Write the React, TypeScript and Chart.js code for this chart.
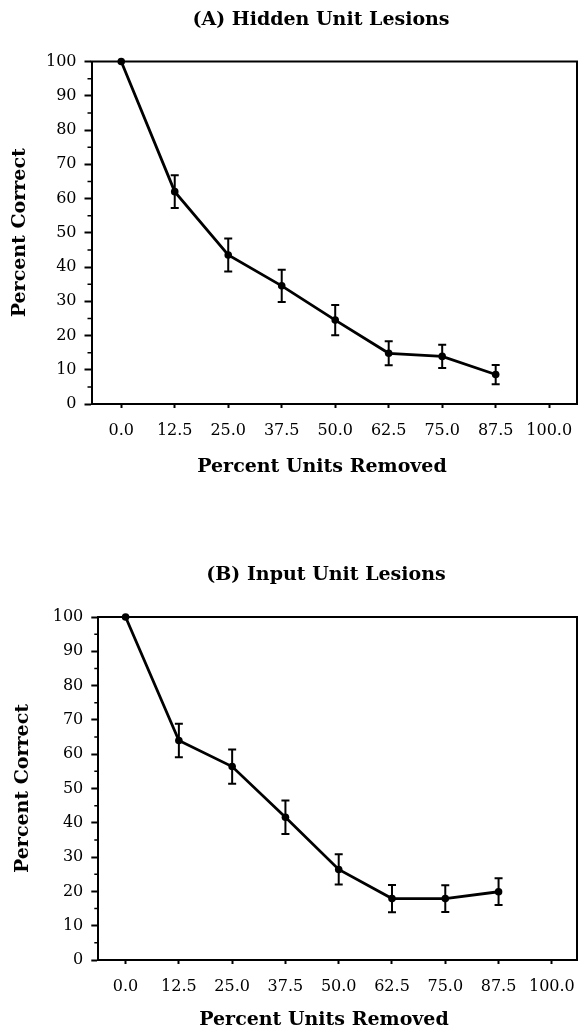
import React, { useEffect, useRef } from "react";
import { Chart, registerables } from "chart.js";

Chart.register(...registerables);

// ---- data ----
const unitsRemoved = [0, 12.5, 25, 37.5, 50, 62.5, 75, 87.5];
const hiddenCorrect = [100, 62, 43.5, 34.5, 24.5, 14.8, 13.9, 8.6];
const hiddenError = [0, 4.8, 4.8, 4.7, 4.4, 3.5, 3.4, 2.8];
const inputCorrect = [100, 64, 56.4, 41.6, 26.4, 17.9, 17.9, 19.9];
const inputError = [0, 4.9, 5.0, 4.9, 4.4, 4.0, 3.9, 3.9];
const xTickValues = [0, 12.5, 25, 37.5, 50, 62.5, 75, 87.5, 100];
const xTickLabels = ["0.0", "12.5", "25.0", "37.5", "50.0", "62.5", "75.0", "87.5", "100.0"];
const yMinorTicks = [5, 15, 25, 35, 45, 55, 65, 75, 85, 95];
const xAxisTitle = "Percent Units Removed";
const yAxisTitle = "Percent Correct";

const SERIF = "'DejaVu Serif', serif";

type Props = {
  title: string;
  means: number[];
  errors: number[];
  top: number;
  height: number;
  plotTop: number;
  yAxisWidth: number;
  xAxisHeight: number;
  titleX: number;
  titleY: number;
  xTitleX: number;
  xTitleY: number;
  yTitlePad: number;
  xMin: number;
  xMax: number;
  padRight: number;
};

function makeFramePlugin(p: Props) {
  return {
    id: "frame",
    afterDatasetsDraw(chart: any) {
      const { ctx, chartArea: a, scales } = chart;
      const xs = scales.x;
      const ys = scales.y;
      ctx.save();
      ctx.strokeStyle = "#000";
      ctx.lineCap = "butt";
      // top and right frame
      ctx.lineWidth = 2;
      ctx.beginPath();
      ctx.moveTo(a.left - 1, a.top);
      ctx.lineTo(a.right, a.top);
      ctx.lineTo(a.right, a.bottom + 1);
      ctx.stroke();
      // minor y ticks
      ctx.lineWidth = 1.5;
      ctx.beginPath();
      for (const v of yMinorTicks) {
        const py = ys.getPixelForValue(v);
        ctx.moveTo(a.left - 4, py);
        ctx.lineTo(a.left, py);
      }
      ctx.stroke();
      // error bars
      const ds = chart.data.datasets[0];
      const errs: number[] = ds.errorBars || [];
      ctx.lineWidth = 2;
      ctx.beginPath();
      ds.data.forEach((pt: any, i: number) => {
        const e = errs[i];
        if (!e) return;
        const px = xs.getPixelForValue(pt.x);
        const t = ys.getPixelForValue(pt.y + e);
        const b = ys.getPixelForValue(pt.y - e);
        ctx.moveTo(px, t);
        ctx.lineTo(px, b);
        ctx.moveTo(px - 4, t);
        ctx.lineTo(px + 4, t);
        ctx.moveTo(px - 4, b);
        ctx.lineTo(px + 4, b);
      });
      ctx.stroke();
      // titles
      ctx.fillStyle = "#000";
      ctx.font = `bold 19px ${SERIF}`;
      ctx.textAlign = "center";
      ctx.textBaseline = "middle";
      ctx.fillText(p.title, p.titleX, p.titleY);
      ctx.fillText(xAxisTitle, p.xTitleX, p.xTitleY);
      ctx.restore();
    },
  };
}

function LesionChart(p: Props) {
  const ref = useRef<HTMLCanvasElement | null>(null);
  useEffect(() => {
    if (!ref.current) return;
    const chart = new Chart(ref.current, {
      type: "line",
      data: {
        datasets: [
          {
            data: unitsRemoved.map((x, i) => ({ x, y: p.means[i] })),
            errorBars: p.errors,
            borderColor: "#000",
            backgroundColor: "#000",
            borderWidth: 2.8,
            pointRadius: 3.8,
            pointBackgroundColor: "#000",
            pointBorderWidth: 0,
            tension: 0,
            clip: false,
          } as any,
        ],
      },
      options: {
        animation: false,
        responsive: false,
        maintainAspectRatio: false,
        layout: { padding: { top: p.plotTop, left: 0, right: p.padRight, bottom: 0 } },
        plugins: {
          legend: { display: false },
          tooltip: { enabled: false },
          title: { display: false },
        },
        scales: {
          x: {
            type: "linear",
            min: p.xMin,
            max: p.xMax,
            afterFit: (s: any) => {
              s.height = p.xAxisHeight;
              s.paddingLeft = 0;
              s.paddingRight = 0;
            },
            afterBuildTicks: (s: any) => {
              s.ticks = xTickValues.map((v) => ({ value: v }));
            },
            ticks: {
              color: "#000",
              font: { family: SERIF, size: 16 },
              padding: 13,
              maxRotation: 0,
              autoSkip: false,
              callback: (v: any) => {
                const i = xTickValues.indexOf(Number(v));
                return i >= 0 ? xTickLabels[i] : "";
              },
            },
            grid: {
              drawOnChartArea: false,
              drawTicks: true,
              tickLength: 4,
              tickWidth: 2,
              tickColor: "#000",
              color: "#000",
            },
            border: { display: true, color: "#000", width: 2 },
            title: { display: false },
          },
          y: {
            type: "linear",
            min: 0,
            max: 100,
            afterFit: (s: any) => {
              s.width = p.yAxisWidth;
              s.paddingTop = 0;
              s.paddingBottom = 0;
            },
            ticks: {
              stepSize: 10,
              color: "#000",
              font: { family: SERIF, size: 16 },
              padding: 8,
            },
            grid: {
              drawOnChartArea: false,
              drawTicks: true,
              tickLength: 7,
              tickWidth: 2,
              tickColor: "#000",
              color: "#000",
            },
            border: { display: true, color: "#000", width: 2 },
            title: {
              display: true,
              text: yAxisTitle,
              color: "#000",
              font: { family: SERIF, size: 19, weight: "bold" },
              padding: { top: p.yTitlePad, bottom: 0 },
            },
          },
        },
      } as any,
      plugins: [makeFramePlugin(p)],
    });
    return () => chart.destroy();
  }, []);
  return (
    <div style={{ position: "absolute", left: 0, top: p.top, width: 581, height: p.height }}>
      <canvas ref={ref} width={581} height={p.height} style={{ display: "block" }} />
    </div>
  );
}

export default function App() {
  return (
    <div style={{ position: "absolute", left: 0, top: 0, width: 581, height: 1033, background: "#fff" }}>
      <LesionChart
        title="(A) Hidden Unit Lesions"
        means={hiddenCorrect}
        errors={hiddenError}
        top={0}
        height={490}
        plotTop={61.5}
        yAxisWidth={91.5}
        xAxisHeight={86}
        titleX={321}
        titleY={20}
        xTitleX={322}
        xTitleY={467}
        yTitlePad={8.6}
        xMin={-6.95}
        xMax={106.5}
        padRight={3}
      />
      <LesionChart
        title="(B) Input Unit Lesions"
        means={inputCorrect}
        errors={inputError}
        top={540}
        height={493}
        plotTop={77}
        yAxisWidth={98.3}
        xAxisHeight={73}
        titleX={326}
        titleY={35}
        xTitleX={324}
        xTitleY={480}
        yTitlePad={11.6}
        xMin={-6.4}
        xMax={105.9}
        padRight={2}
      />
    </div>
  );
}
